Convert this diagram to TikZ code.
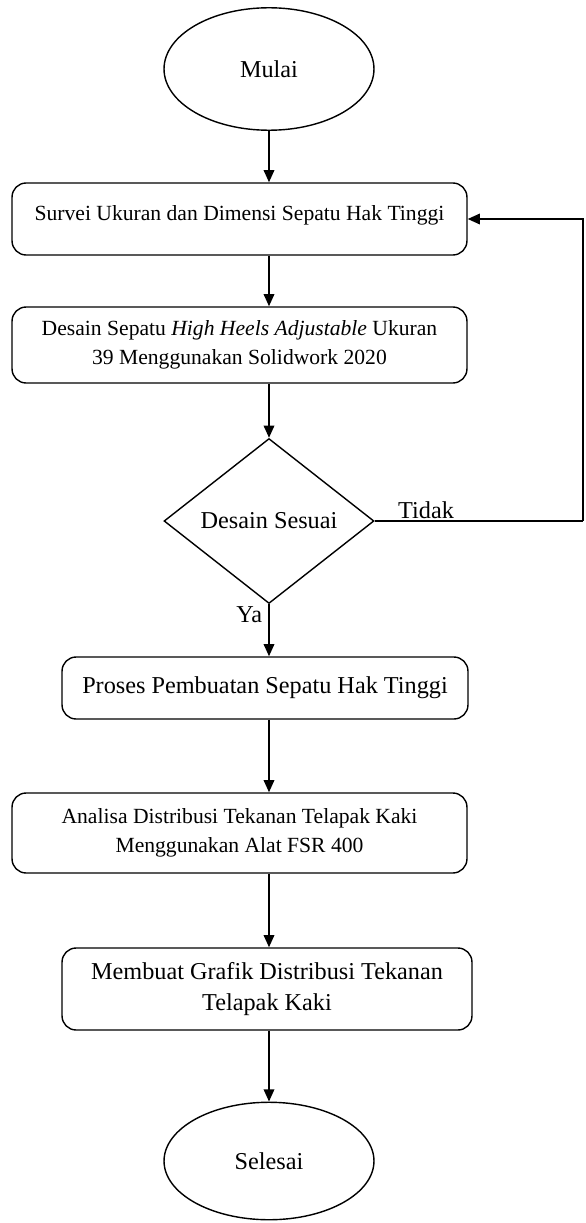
\documentclass[tikz,border=0pt]{standalone}
\usepackage{fontspec}
\setmainfont{Liberation Serif}
\usetikzlibrary{shapes.geometric,arrows.meta}
\tikzset{
    terminal/.style={draw,ellipse,line width=.8pt,minimum width=4.2cm,minimum height=2.45cm,inner sep=0pt},
    proses/.style={draw,rounded corners=8pt,line width=.8pt,align=center,inner sep=0pt},
    kecil/.style={font=\fontsize{12.3}{16.5}\selectfont},
    keputusan/.style={draw,diamond,line width=.8pt,minimum width=4.2cm,minimum height=3.3cm,inner sep=0pt,aspect=1.28},
    panah/.style={line width=1.1pt,-{Triangle[width=6pt,length=7pt]}},
    garis/.style={line width=1.1pt}
}
\begin{document}
\begin{tikzpicture}[x=0.02cm,y=-0.02cm,font=\fontsize{13.8}{16.5}\selectfont]
                \useasboundingbox (0,0) rectangle (585,1223);
                % simbol awal dan akhir
                \node[terminal] (mulai) at (269,69) {Mulai};
                \node[terminal,minimum height=2.35cm] (selesai) at (269,1161) {Selesai};
                % langkah proses
                \node[proses,kecil,minimum width=9.1cm,minimum height=1.44cm] (survei) at (239.5,219) {\raisebox{.24cm}{Survei Ukuran dan Dimensi Sepatu Hak Tinggi}};
                \node[proses,kecil,minimum width=9.1cm,minimum height=1.52cm] (desain) at (239.5,345) {Desain Sepatu \textit{High Heels Adjustable} Ukuran\\39 Menggunakan Solidwork 2020};
                \node[keputusan] (cek) at (269,521) {Desain Sesuai};
                \node[proses,minimum width=8.12cm,minimum height=1.24cm] (buat) at (265,688) {Proses Pembuatan Sepatu Hak Tinggi};
                \node[proses,kecil,minimum width=9.1cm,minimum height=1.6cm] (analisa) at (239.5,833) {Analisa Distribusi Tekanan Telapak Kaki\\Menggunakan Alat FSR 400};
                \node[proses,minimum width=8.2cm,minimum height=1.64cm] (grafik) at (267,989) {Membuat Grafik Distribusi Tekanan\\[1pt]Telapak Kaki};
                % alur utama
                \draw[panah] (mulai) -- (mulai |- survei.north);
                \draw[panah] (mulai |- survei.south) -- (mulai |- desain.north);
                \draw[panah] (cek |- desain.south) -- (cek);
                \draw[panah] (cek.south) -- (cek |- buat.north) node[pos=.2,anchor=east] {Ya};
                \draw[panah] (cek |- buat.south) -- (cek |- analisa.north);
                \draw[panah] (cek |- analisa.south) -- (cek |- grafik.north);
                \draw[panah] (cek |- grafik.south) -- (selesai);
                % kembali bila desain tidak sesuai
                \coordinate (balik) at (583,521);
                \draw[garis] (cek.east) -- (balik) node[pos=.1,anchor=south west,inner sep=1pt] {Tidak};
                \draw[panah] (balik) -- (balik |- survei.east) -- (survei.east);
            \end{tikzpicture}
\end{document}
